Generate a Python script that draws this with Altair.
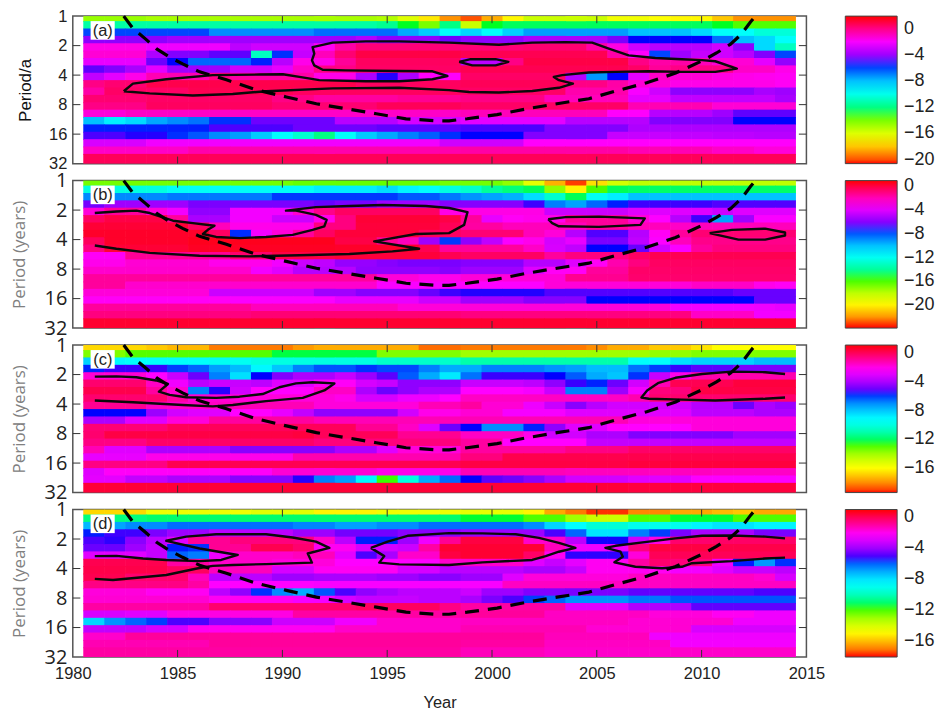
import altair as alt
import pandas as pd

START_YEARS = [1980.5 + i for i in range(35)]
OCT_EDGES = [0, .17, .42, .67, .92, 1.17, 1.42, 1.67, 1.92, 2.17, 2.42, 2.67, 2.92, 3.17, 3.42, 3.67, 3.92, 4.17, 4.42, 4.67, 5]

A = [
[-14.5,-14.5,-14.5,-14.8,-14.8, -14.8,-14.8,-14.8,-14.8,-14.8, -14.8,-14.8,-14.8,-14.8,-15, -16,-17.3,-19,-20,-18.5, -17,-15.5,-15.5,-15.5,-15.5, -16.5,-16.5,-16.8,-17,-17, -18,-19,-19,-19],
[-11.5,-11.5,-11.5,-11.5,-11.5, -11.5,-11.5,-11.5,-11.5,-11.5, -11.5,-11.5,-11.5,-11.5,-11.8, -13,-14,-12,-15.5,-13, -12.5,-12.5,-12.5,-12.5,-12.5, -12.5,-12.5,-12.5,-12.5,-12.5, -13,-13.5,-13.5,-13.5],
[-6,-6,-6,-6,-6, -6,-7,-7,-7,-7, -7,-6.5,-6.5,-6.5,-6.5, -7.5,-8.2,-9.5,-8.5,-9.5, -8.3,-7.3,-7.3,-7.3,-7.3, -7.3,-8,-8,-8,-8.5, -9.5,-9.5,-10.5,-10.5],
[-4.3,-4.3,-4.3,-4.3,-4, -4,-4,-4,-4,-4, -4,-4,-4,-3.6,-4.3, -4.3,-4.3,-4.8,-4.3,-4.3, -4.3,-3.8,-3.8,-3.8,-3.8, -4.6,-5.6,-5.6,-5.6,-5.6, -6.5,-8,-8.5,-9.5],
[-1.5,-1.5,-1.5,-2.2,-2.2, -2.2,-2.2,-3.4,-3,-3, -3,-1.7,-.5,.2,.2, .2,.2,.2,.2,.2, .2,.3,.3,.3,-.5, -1.4,-3,-3.5,-3.5,-3.5, -3,-4.3,-8.5,-11],
[-1.2,-1.2,-1.2,-3.7,-4.5, -4.5,-5,-5,-11,-5.8, -3.2,-.8,.3,1,1, 1,1,1,.8,.8, .8,.8,.8,.8,.8, -.5,-1.8,-6,-4,-3.2, -3,-3.5,-4.5,-6],
[-2.4,-2.4,-2.4,-4.8,-5.6, -6.4,-6.4,-6.4,-5.7,-3.5, -1.5,-1.5,-.3,.6,.6, .6,.6,.6,-3.4,-3.4, 0,1,1,1,1, 1,0,-.5,-.5,-.8, -1.2,-1.2,-2.5,-4.2],
[-5,-4.5,-3.8,-2.5,-4, -4,-4,-3,-3,-2.5, -1,0,0,.5,.5, .5,.5,.5,.8,.8, .8,.8,.8,.8,.8, .8,.5,-.3,0,0, 0,-1,-1,-1.5],
[-3.3,-2.5,-1.5,-.7,-.7, -.7,0,-.5,-.5,-.5, -.5,-1.5,-1.5,-3.7,-5.5, -3.7,-1.8,-1.8,.5,.5, .5,.5,.5,-3.5,-7.2, -5.6,-2.5,-1,-1.2,-1.2, -1.4,-1.5,-1.6,-1.7],
[0,.3,.3,.9,.9, .9,.9,.9,.9,.9, .9,.9,.9,.6,.6, .6,.6,.6,.7,.7, .7,.7,.7,0,0, -.5,-1.2,-1.2,-1.5,-1.5, -1.5,-1.5,-1.5,-1.7],
[-.5,.5,.5,.5,.5, .8,.8,.8,.8,.8, .6,.6,.6,.6,.6, .6,.6,.6,.5,.5, .5,.5,.5,-.6,-.6, -.6,-2,-3,-4.3,-4.3, -4.3,-4.3,-3.8,-4],
[.3,.3,.3,.5,.5, .5,.5,.5,.5,0, 0,-.4,-.4,-.4,-.4, -.2,-.2,-.2,0,0, 0,0,-.8,-.8,-.8, -.8,-2.5,-2.5,-3.3,-3.3, -3.3,-3.3,-3.3,-3.8],
[0,0,0,.6,.6, .6,.6,.6,.6,.3, .3,.3,.3,.3,.7, .7,.7,.7,.5,.5, .5,.5,.5,.5,.5, .5,-.7,-.7,-.7,-.7, -1.2,-1.2,-1.2,-1.2],
[-1.3,-1.3,-1,-1,-1, -1,-1,-1,-1,-1, -1,-1,-1,-1,-1, -1,-1,-1,-.8,-.8, -.8,-.8,-.8,-.8,-.8, -1.8,-1.8,-3.5,-3.5,-3.5, -4,-5,-5,-5],
[-8,-9,-8.5,-7.5,-7, -6.6,-5.8,-5.8,-4.8,-4.8, -4.8,-4.8,-3.5,-3.5,-3.5, -2.8,-2.8,-2.8,-2.5,-2.5, -2.5,-2.5,-2.5,-3.5,-3.5, -3.5,-3.5,-4.5,-4.5,-4.5, -4.5,-5.6,-5.6,-5.6],
[-5.7,-5.7,-5.7,-5.7,-5.7, -5.7,-5.2,-5.2,-5.2,-5.2, -4.8,-4.8,-4.8,-4.8,-5, -5,-5,-5,-5.2,-5.2, -5.2,-5.2,-4.5,-4.5,-4.5, -4.5,-3.7,-3.7,-3.7,-3.7, -3.7,-3.7,-3.7,-3.7],
[-5.2,-5.2,-5.5,-5.5,-5.8, -6.2,-7,-7.3,-8.2,-9.3, -10.7,-12,-9.5,-8.2,-7.5, -6.8,-6.3,-5.8,-5.6,-5.6, -5.6,-4.5,-4.5,-4.5,-4.5, -3.2,-3.2,-3.2,-3.3,-3.3, -3.4,-3.4,-3.5,-3.5],
[-2.8,-2.8,-2.8,-2.2,-2.2, -2.2,-2.2,-2.2,-2.2,-2.2, -2.2,-2.2,-2.2,-2.2,-2.2, -2.2,-2.2,-3,-3,-3, -3,-1.8,-1.8,-1.8,-1.8, -1.8,-1.8,-1.8,-1.8,-1.8, -1.8,-1.8,-1.8,-1.8],
[-1,-1,-1,-1,-1, -.6,-.6,-.6,-.6,-.6, -.6,-.6,-.6,-.6,-.6, -.6,-.6,-.6,-.5,-.5, -.5,-.5,-.5,-.5,-.5, -.5,-.7,-.7,-.7,-.7, -1,-1,-1.3,-1.3],
[.7,.7,.7,.7,.7, .7,.7,.7,.7,.7, .7,.7,.7,.7,.7, .7,.7,.7,.7,.7, .7,.7,.7,.7,.7, .7,.7,.7,.7,.7, .7,.7,.7,.7],
]

B = [
[-16.5,-16.5,-16.5,-16.5,-16.5, -16.5,-16.5,-16.5,-16.5,-16.5, -16.3,-16.3,-16.3,-16.3,-16.3, -16.3,-16.3,-16.5,-16.5,-16.5, -17,-19,-21.5,-23.5,-20.5, -18.5,-18,-18,-18,-18, -18,-18,-18,-18],
[-12.5,-12.5,-12.5,-12.5,-11.8, -11.8,-11.8,-11.8,-11.8,-11.8, -11.8,-11,-11,-11,-10.6, -11.2,-11.5,-12.5,-13,-14, -14.5,-15,-17,-20,-16, -15,-14.8,-14.8,-14.8,-14.8, -14.8,-14.8,-14.8,-14.8],
[-8.8,-8.8,-8.8,-8.8,-8.5, -8.5,-8.5,-8.5,-8.5,-7.6, -7.6,-7.6,-7.6,-7.6,-7.6, -8,-8,-8.5,-9,-9.3, -9.6,-10.6,-13,-15,-12, -11,-10,-10,-10,-10, -10,-10,-10,-10],
[-6.3,-5.5,-5.5,-5.5,-5.5, -6.2,-6.2,-6.2,-6.2,-6.2, -6.2,-6.5,-6.2,-6.2,-5.5, -5.5,-5.5,-6,-6,-6, -6,-7,-8.6,-9.3,-8.2, -7.4,-7,-7,-7,-7, -6.8,-6.8,-6.8,-6.8],
[-2.5,-1.5,-1.5,-2.5,-3.5, -5.8,-5.8,-3.5,-3.5,-3.5, -2.3,-1.2,-.5,-.5,-.5, -.5,-.5,-2.7,-2.7,-2.7, -2.7,-2.7,-4.5,-4.5,-4.5, -4.5,-4,-4,-4,-4, -4.5,-4,-4,-4],
[-.5,0,0,0,-1.5, -5.3,-5.3,-3.5,-3.5,-4.5, -4.5,-2.8,-1,.3,.3, .3,.3,0,-1.5,-3.8, -3,-2.8,-2.8,-1.5,-1.5, -1.5,-2.5,-3.2,-5,-7, -9.3,-5.5,-3.3,-3.3],
[.3,.3,.3,.3,.3, -.5,-2,-2.8,-2.8,-2.8, -2.8,-1,-1,.2,.2, .2,.2,-.3,-1.6,-1.6, -2,-2,-2,-2,-1.5, -1.5,-2,-2,-2.2,-2, -2,-2,-2,-2],
[.5,.5,.5,.5,.5, .5,-.5,-7.5,-3.5,-2.5, -1.5,-.5,.2,.2,.2, .2,-.5,-.5,-.8,-.8, -.8,-2,-2.5,-5,-6.8, -6.8,-5,-3,-1.5,-.8, -.8,-.8,-.8,-.8],
[-.4,.5,.5,.5,.5, .7,.7,.7,.7,.7, .7,.7,0,0,-1.4, -2,-5.5,-7.6,-5.8,-4.8, -3.3,-2.8,-4.3,-3.8,-6.2, -6.2,-4.8,-3.2,-2,-1.2, -1.2,-1.2,-1.2,-1.2],
[-1,.3,.3,.3,.3, .6,.6,.6,.6,.6, .6,.6,.5,.5,.5, .5,-.2,-1.5,-1.5,-1.5, -1.5,-2.2,-4.2,-4.8,-7.3, -7.3,-6.5,-4.3,-3.3,-1.5, -1,-1,-1,-1],
[-3,-3,-1.4,-1.4,-1.4, -1.4,-1.4,-.7,-.7,0, 0,0,.2,.2,.2, .2,.2,-.2,-.5,-.5, -.5,-.5,-1.5,-1,-1, -1,-.5,-.2,-.2,-.2, -.2,-.2,-.2,-.2],
[-2.8,-2.8,-2.4,-2.4,-2.4, -2.4,-2.8,-2.8,-2.8,-3.5, -4.5,-4.8,-5.7,-5.7,-6, -6.2,-6.2,-6.2,-6,-6, -6,-5,-5,-4,-3, -1.8,-1,-.5,-.5,-.5, -.5,-.5,-.5,-.5],
[-2.3,-2.3,-2.3,-2.3,-2.3, -2.3,-2.3,-2.3,-3.5,-4, -5,-5,-5,-5.8,-5.8, -5.8,-5.8,-6,-5.5,-5.5, -5.5,-4,-3,-3,-1.5, -1.5,-.6,-.6,-.6,-.6, -.6,-.6,-.6,-.6],
[-1.5,-1.5,-1.5,-1.5,-1.5, -1.5,-1.5,-1.5,-1.5,-1.5, -1.5,-1.5,-1.5,-1.5,-2.5, -2.5,-2.8,-2.8,-2.5,-2.5, -2.5,-2.5,-2.5,-1.3,-1.3, -1.3,-.7,-.7,-.7,-.7, -.7,-.7,-.7,-.7],
[-1.5,-1.5,-2.3,-2.3,-2.3, -2.3,-2.3,-2.3,-2.3,-2.3, -2.3,-2.3,-2.3,-2.3,-3.3, -3.3,-3.3,-3.3,-3.2,-3.2, -3.2,-3.2,-2.5,-2.5,-2.5, -2.5,-2.5,-2.5,-2.5,-2.2, -2.2,-2.2,-2.8,-3],
[-2.5,-2.5,-2.5,-2.5,-2.5, -2.5,-4.5,-4.5,-4.5,-4.5, -4.5,-5.5,-5.5,-6,-6, -6,-6.5,-7,-7.2,-7.2, -7.2,-7.2,-6.8,-6.8,-6.8, -6.8,-6.8,-6.8,-6.8,-6.8, -6.8,-6.5,-6.5,-6.5],
[-3,-3,-3,-3,-3, -3,-3,-3.3,-3.3,-3.3, -3.3,-3.3,-3.8,-3.8,-3.8, -3.8,-4.5,-4.5,-5.5,-5.5, -5.5,-6,-6,-6,-7.3, -7.3,-7.3,-7.3,-7.3,-7.3, -7.3,-7.3,-6.5,-6.5],
[-1.5,-1.5,-1.5,-1.5,-1.5, -1.5,-1.5,-1.5,-2,-2, -2,-2,-2,-2,-2, -2.5,-2.5,-2.5,-2.5,-2.5, -2.5,-2.5,-2.5,-2.5,-2.5, -2.5,-2.5,-2.5,-3.5,-3.5, -3.5,-3.5,-3.6,-3.8],
[-1,-1,-1,-1,-1, -1,-1,-1,-.8,-.8, -.8,-.8,-.8,-.8,-.8, -.8,-.8,-.8,-1,-1, -1,-1,-1,-1,-1, -1,-1,-1,-1,-2.2, -2.2,-2.2,-3.5,-3.5],
[.4,.4,.4,.4,.4, .4,.4,.4,.4,.4, .4,.4,.4,.4,.4, .4,.4,.4,.4,.4, .4,.4,.4,.4,.4, .4,.4,.4,.4,.4, .4,.4,.4,.4],
]

C = [
[-16.7,-16.7,-16.7,-17,-17.3, -17.3,-18.3,-18.3,-18.3,-18.3, -17.8,-17.5,-17.5,-17.5,-17.5, -17.5,-18.5,-18.5,-18.3,-18.3, -18.3,-18.3,-18.3,-18.3,-18, -17.5,-17.5,-17,-17,-16.5, -16,-16,-16,-16],
[-13.5,-13.5,-13,-13,-13, -13,-13,-13,-13,-12.3, -12.3,-12.3,-12.3,-12.3,-13.5, -13.5,-13.5,-13.5,-14,-14, -14,-14,-14,-14,-14, -14,-14,-13.8,-13.8,-13.5, -13.5,-13.5,-13.5,-13.5],
[-8.2,-9,-9.3,-9.3,-9.3, -9.3,-9.6,-9.6,-10,-10, -10,-10,-10,-10,-10.5, -10.5,-10.5,-10.5,-11,-11, -11,-11,-11,-11,-11, -11,-9.3,-9.3,-8.5,-8.2, -8.2,-8.2,-7.8,-7.8],
[-5.8,-5.5,-5.5,-5.5,-6, -6.4,-7.3,-7.8,-9,-8, -6.8,-6.2,-6.2,-5.9,-6.1, -6.1,-6.8,-7.5,-7.5,-6.8, -6.8,-6.8,-7.1,-7.3,-7.8, -7.8,-6.6,-6,-5.5,-5.2, -5.2,-4.8,-4.8,-4.8],
[-1.7,-1.7,-1.7,-2.3,-3.5, -5,-6.8,-8.5,-5.7,-4.7, -4,-4,-3.5,-4.3,-5.2, -6.3,-7.5,-8.7,-6.6,-5.5, -5.5,-5.5,-5.7,-6.3,-7.5, -8,-5.9,-3.5,-2,-1.2, -1.2,-1.2,-1.2,-1.2],
[-.3,-.3,-.3,-1.5,-2.6, -3.7,-3.4,-3.5,-3.7,-3, -3,-2.2,-2.2,-3.2,-3.5, -4.5,-4.5,-4.5,-3.5,-3.5, -3.5,-3.7,-4.5,-5.5,-5.8, -5,-3.3,-1.3,.1,.1, .1,.4,.4,.4],
[.2,.2,.2,-1,-1.7, -6.8,-5.6,-3.3,-2.3,-2.3, -2.3,-1.5,-1.5,-4,-5, -4.5,-4,-4,-2.3,-2.3, -2.3,-2.5,-3.5,-6.8,-6.8, -4.3,-2.5,-.5,-.5,.3, .3,.3,.3,.3],
[-.3,-.3,-.3,-.3,-1, -1.7,-1.7,-1.8,-1.8,-1.8, -1.8,-1.8,-2,-3.2,-3.2, -2.7,-2.7,-2.3,-1.5,-1.5, -1.5,-1.5,-1.5,-1.5,-1.5, -1.5,-1.2,-.3,-.3,-.3, -.3,-.3,-.3,-.3],
[-.8,-.8,-.8,-1.5,-1.5, -1.5,-1.5,-1.3,-1.3,-1.3, -1.3,-1.8,-1.8,-1.8,-1.8, -1.8,-1.3,-1.3,-1,-1.7, -1.7,-2.7,-3.5,-4.6,-3.8, -3.3,-3.3,-3.3,-3.3,-3.8, -3.8,-5,-4,-4.3],
[-5.7,-5.7,-5.7,-4.3,-3.3, -3,-3,-2.3,-2.3,-2.8, -3.6,-4.5,-4.5,-4.5,-4.5, -3.3,-2,-2,-1.7,-1.7, -2.5,-2.5,-2.5,-3,-3, -3,-3,-3,-3,-3.7, -3.7,-3.7,-4,-4],
[-4,-4,-3,-3,-1.8, -1.8,-1,-1,-1,-1, -1,-1.3,-1.3,-1.3,-1.3, -1.3,-1.3,-1.3,-1.3,-1.3, -1.3,-1.3,-1.3,-1.3,-1.3, -1.3,-1.8,-1.8,-1.8,-1.8, -1.8,-1.8,-1.8,-1.8],
[-.4,-.4,-.4,-.4,0, 0,0,0,0,0, 0,0,0,-.8,-.8, -1.5,-3,-5,-5.7,-7, -7,-5.8,-4.5,-3,-3, -2.3,-2.3,-2.3,-2.3,-1.8, -1.8,-1.8,-1.8,-1.8],
[-.3,.3,.3,.3,.3, .3,.3,.3,.3,.3, .4,0,0,0,0, -.8,-.8,-.8,-1.5,-1.5, -1.5,-2,-3.3,-3.3,-4, -4,-4.7,-4.7,-4.7,-4.7, -4.7,-4.2,-4.2,-4.2],
[-.6,-.6,-.6,-.2,-.2, -.2,-.2,-.2,-.2,-.2, -.2,-.5,-.5,-.5,-.5, -.5,-.5,-.5,-1,-1, -2.3,-2.3,-2.3,-2.3,-3.6, -3.6,-3.6,-3.6,-3.6,-3.6, -3.6,-3.6,-3.6,-3.6],
[-1.3,-3,-3,-4,-4, -4,-4,-4.6,-4.6,-4.6, -4.6,-4.6,-4,-4,-3, -1.8,-1.8,-1.8,-1,-1, -1,-1,-1,-.6,-.6, -.6,-.2,-.2,-.2,-.2, -.2,-.2,-.2,-.2],
[-2.8,-2.8,-2.8,-2,-2, -2,-2,-2,-2,-2, -1.2,-1.2,-1.2,-1.2,-1.2, -1.2,-1.2,-1.2,-.5,-.5, .2,.2,.2,.2,.2, .2,.2,.2,.2,.2, .2,.2,.2,.2],
[-.6,-.6,-.6,-.6,.1, .1,.1,.1,.1,.1, .1,.1,.1,.1,.1, .1,.1,.1,.3,.3, .3,.3,.3,.3,.3, .3,.4,.4,.4,.4, .4,.4,.4,.4],
[-3,-2.2,-2.2,-2.2,-2.2, -2.2,-2.2,-2.2,-2.2,-1.7, -1.7,-1.7,-1.7,-1.7,-2, -2,-2,-2,-1.3,-1.3, -1.3,-1.3,-1.3,-1.4,-1.4, -1.4,-1.4,-1.4,-1.4,-1.4, -1.5,-1.5,-1.5,-1.5],
[-2.9,-2.9,-3.6,-3.6,-4, -4,-4,-4.6,-4.6,-4.6, -5.6,-6.8,-7.3,-9,-12.8, -10,-7.5,-6.5,-5.7,-5.2, -5,-4.6,-4,-3.3,-3.3, -3.3,-3,-3,-3,-2.4, -2.4,-2.4,-2.4,-2.4],
[.5,.5,.5,.5,.5, .5,.5,.5,.5,.5, .5,.5,.5,.5,.5, .5,.5,.5,.5,.5, .5,.5,.5,.5,.5, .5,.4,.4,.4,.4, .4,.4,.4,.4],
]

D = [
[-15.5,-15.5,-15.5,-14.5,-14.5, -14.5,-14.5,-14.5,-14.2,-14.2, -14.2,-15,-15,-15,-14.5, -14.5,-14.5,-14.5,-14.3,-14.3, -14.3,-15,-16.3,-17,-17.8, -17.8,-16.8,-16.8,-16.3,-16.3, -16,-15.8,-16.3,-16.3],
[-10.8,-10.8,-10.8,-11,-11, -11,-11,-11,-11,-11, -11,-11,-11,-11,-11, -11,-11,-11,-11.5,-11.5, -11.5,-12,-12,-13,-13.7, -13.7,-12,-12,-11.5,-11.5, -11.5,-12,-12,-12],
[-7.2,-6.9,-6.5,-6.5,-6.1, -6.1,-6.1,-6.1,-6.1,-6.1, -6.4,-6.4,-6.8,-6.8,-6.5, -6.5,-6.1,-6.1,-6.1,-6.1, -6.1,-6.5,-7.7,-8.5,-9.5, -9.5,-9,-9,-9,-8.3, -8,-8,-8.3,-8.3],
[-5.4,-5.1,-5.1,-4.5,-4, -4,-3.5,-3.5,-3.5,-3.5, -4,-4,-4.6,-4.6,-4.6, -4.3,-4.3,-4.3,-4,-4, -4,-4,-5,-6,-8, -8,-6.3,-5.6,-4.5,-3.8, -3.8,-3.8,-4.5,-4.5],
[-5,-5.2,-4.3,-3.5,-2.8, -.8,-.8,-.5,-.5,-.5, -.5,-1.5,-3.5,-5.4,-5.4, -4,-2.5,-.8,.3,.3, .3,-1.5,-1.5,-3.5,-5.3, -5.3,-3.2,-1.8,-.3,-.3, -.2,-.2,-.2,-.2],
[-4.7,-4.7,-4,-3.3,-5.4, -5.5,-.8,-.8,.1,.1, -.3,-2,-2,-3,-3, -3.2,-1,.5,.5,.5, .5,.5,-1.3,-2.5,-2.5, -2.5,-.5,.3,.3,.3, .2,.2,.2,.2],
[-2.8,-2.8,-2.8,-3.3,-6, -6.3,-2.5,-1.5,-1.5,-1.5, -1.3,-1.3,-2.7,-5,-3.8, -1.5,-1.5,.3,.5,.5, .5,-.2,-2,-5.2,-5.2, -5.2,-1.7,0,0,0, 0,0,0,0],
[.1,.1,.1,.1,-1, -1,-1.5,-1.5,-1.5,-1.7, -1.7,-1.7,-2.2,-2.2,-2.2, -2.2,-2.2,-1.5,-1.5,-1.5, -1.5,-2.8,-3.3,-2.7,-2, -2,-1,-.3,-.5,-.5, -2.5,-5.4,-6.7,-5.5],
[.2,.2,.2,.2,-.1, -.1,-1.3,-1.3,-1.3,-3, -3,-2,-2,-2,-2, -3,-3,-3.5,-3.5,-3.5, -3.5,-3.8,-3.8,-3.3,-2, -2,-2,-2,-2.4,-2.4, -2.8,-3.3,-3.3,-3.5],
[.1,.1,-.3,-.3,-.3, -1.3,-3.5,-3.5,-3.5,-4, -4,-3.8,-3.8,-3.8,-4, -4,-4.3,-4.3,-4,-4, -2.8,-1.7,-1.7,-1.7,-1.7, -1.7,-1.4,-1.4,-1.4,-1.4, -1.4,-1.4,-1.6,-3],
[-.6,-.6,-.6,-.6,-.6, -1,-2.2,-2.2,-2.2,-2.2, -2.2,-2.3,-2.3,-2.3,-2.3, -2.3,-2.3,-2.3,-2.3,-2.3, -1.4,-1.4,-1.4,-1.4,-1.4, -1.4,-1.4,-1.4,-1.4,-1.4, -1.4,-1.4,-1.4,-1.4],
[-1.7,-1.7,-1.7,-2,-2, -2,-3.5,-4.2,-5.5,-6.5, -7,-5.8,-5,-4.2,-3.8, -3.5,-3.5,-3.5,-3.2,-4, -4,-4.4,-4.4,-4.5,-4.5, -4.5,-4.8,-4.8,-4.8,-4.8, -4.8,-4.8,-5,-5],
[-1.6,-1.6,-1.6,-1.6,-1.6, -1.6,-2,-2,-2,-2, -2.4,-2.4,-3,-3.3,-3.3, -3.3,-3.5,-3.5,-3.8,-4.5, -5,-5.6,-6,-6.6,-6.6, -6.6,-6.2,-6.2,-5.8,-5.8, -5.8,-5.8,-5.8,-5.8],
[-1,-1,-1,-1,-1, -1,-.3,-.3,-.3,-.3, -.3,-.3,-.3,-.1,-.1, -.1,-.1,-.6,-1,-1, -1,-1,-1,-2.8,-2.8, -2.8,-3.7,-3.7,-3.7,-4.8, -4.8,-4.8,-4.8,-4.8],
[-3,-3,-2.8,-2.8,-1.8, -1.8,-1.8,-1.8,-1.8,-1.8, -1,-1,-1,-1,-1, -1,-1,-1,-.9,-.9, -.9,-.9,-1.4,-1.4,-1.4, -1.4,-1.4,-1.7,-1.7,-1.7, -2,-2,-2.5,-2.5],
[-7.7,-6.6,-6,-5.6,-5, -5,-4.3,-4.3,-4.3,-3.2, -3.2,-3.2,-2.5,-2.5,-1.5, -1.5,-1.5,-1.5,-1.4,-1.4, -1.4,-1.4,-1.4,-1.4,-1.4, -1.4,-1.6,-1.6,-1.6,-1.6, -1.6,-2.5,-2.5,-2.5],
[-3.4,-3.4,-3.4,-3,-3, -2,-2,-2,-2,-2, -2,-2,-1.5,-1.5,-1.5, -1.5,-1.5,-1.5,-1.2,-1.2, -1.2,-1.2,-1.2,-1.2,-1.6, -1.6,-1.6,-1.6,-1.6,-3, -3,-3,-3,-3],
[-1.5,-1.5,-.9,-.9,-.9, -.9,-.9,-.9,-.9,-.9, -.9,-.9,-.9,-.9,-.9, -.9,-.9,-.9,-.9,-.9, -.9,-.9,-1.3,-1.3,-1.3, -1.3,-1.3,-2.5,-2.5,-2.5, -2.5,-2.5,-2.5,-2.5],
[-1.2,-1.2,-1.2,-1.2,-1.2, -1.2,-.9,-.9,-.9,-.9, -.9,-.9,-.9,-.9,-.9, -.9,-.9,-.9,-1,-1, -1,-1,-1.4,-1.4,-1.4, -1.4,-1.4,-1.4,-2.4,-2.4, -2.4,-2.4,-2.4,-2.4],
[-1,-1,-1,-1,-1, -1,-1,-1,-1,-1, -1,-1,-1,-1,-1, -1,-1,-1,-1.3,-1.3, -1.3,-1.3,-1.5,-1.5,-1.5, -1.5,-1.5,-1.5,-1.5,-1.5, -1.5,-1.5,-1.5,-1.5],
]

COI_YEAR = [1982.43,1982.86,1983.48,1984,1984.62,1985.24,1986.05,1987.33,1988.76,1990.19,1991.62,1993.05,1994.48,1995.9,1997.33,1997.95,1998.81,2000.24,2001.67,2003.1,2004.62,2005.95,2007.38,2008.76,2010.1,2010.71,2011.38,2011.9,2012.33,2012.57]
COI_OCT = [0,.41,.78,1.11,1.39,1.62,1.89,2.16,2.5,2.74,2.97,3.14,3.31,3.48,3.55,3.55,3.48,3.34,3.14,2.97,2.8,2.53,2.26,1.93,1.49,1.25,.95,.61,.2,0]

A1_Y = [1982.43,1982.87,1984.46,1986.68,1988.9,1990.02,1990.81,1991.76,1993.98,1995.57,1997.16,1997.87,1997.16,1995.57,1993,1991.92,1991.52,1991.41,1991.52,1991.44,1992.4,1993.98,1995.57,1997.95,2000.33,2001.92,2003.51,2004.78,2005.57,2006.52,2007.79,2009.06,2010.02,2010.65,2011.68,2010.65,2009.06,2007.48,2005.89,2004.62,2003.35,2002.95,2003.19,2003.86,2003.19,2001.92,2000.33,1998.9,1997.95,1995.57,1992.4,1989.22,1987.63,1985.73,1983.67,1982.43]
A1_O = [2.545,2.29,2.14,2,1.98,1.97,2.06,2.17,2.21,2.21,2.14,2.03,1.87,1.86,1.84,1.82,1.67,1.5,1.27,1.05,.9,.856,.856,.9,.97,.9,.88,.9,1.1,1.33,1.42,1.46,1.49,1.53,1.78,1.89,1.89,1.87,1.89,1.91,2,2.06,2.17,2.29,2.43,2.54,2.59,2.57,2.51,2.43,2.45,2.545,2.64,2.69,2.62,2.545]
A2_Y = [1998.43,1998.98,2000.17,2000.78,2000.17,1999.06,1998.43]
A2_O = [1.55,1.46,1.46,1.55,1.67,1.67,1.55]
B1_Y = [1981.05,1982.08,1983.03,1983.67,1984.78,1985.73,1986.76,1986.44,1986.21,1986.84,1987.95,1989.22,1990.49,1991.44,1992,1992.11,1991.6,1990.65,1990.17,1991.6,1993.19,1994.78,1996.84,1997.95,1998.83,1998.67,1997.95,1996.37,1994.38,1996.52,1995.25,1993.19,1990.81,1988.43,1986.05,1983.67,1982.08,1981.05]
B1_O = [1.1,1.05,1.02,1.1,1.36,1.44,1.53,1.67,1.81,1.91,1.95,1.91,1.84,1.67,1.55,1.33,1.16,1.02,1.02,.9,.86,.83,.86,.93,1.07,1.5,1.78,1.81,2.06,2.31,2.4,2.49,2.53,2.57,2.55,2.45,2.31,2.2]
B2_Y = [2002.68,2003.51,2005.1,2007.29,2007.08,2005.1,2003.19,2002.87,2002.68]
B2_O = [1.31,1.24,1.22,1.28,1.5,1.57,1.55,1.44,1.31]
B3_Y = [2010.38,2011.44,2013.03,2013.98,2013.98,2013.03,2011.76,2010.38]
B3_O = [1.78,1.67,1.63,1.76,1.86,2,2,1.78]
C1_Y = [1981.05,1982.08,1983.03,1983.98,1984.54,1984.11,1984.62,1985.41,1986.84,1987.95,1989.06,1989.86,1990.65,1991.44,1992.48,1992,1990.97,1989.22,1987.63,1986.68,1985.25,1982.87,1981.05]
C1_O = [1.07,1.06,1.09,1.2,1.32,1.58,1.69,1.77,1.79,1.75,1.66,1.43,1.3,1.26,1.3,1.54,1.79,1.9,2.03,2.08,2.03,1.94,1.88]
C2_Y = [2013.98,2013.03,2011.44,2010.02,2008.75,2007.95,2007.4,2007.13,2007.48,2009.06,2010.65,2013.03,2013.98]
C2_O = [.98,.92,.9,.98,1.11,1.28,1.54,1.78,1.82,1.85,1.88,1.82,1.78]
D1_Y = [1981.05,1982.08,1983.35,1984.46,1986.05,1987.08,1987.87,1986.05,1984.46,1985.41,1986.84,1989.22,1990.49,1991.6,1992.24,1991.21,1991.41,1989.22,1987.63,1986.68,1985.98,1984.46,1981.92,1981.05]
D1_O = [1.58,1.57,1.66,1.71,1.75,1.71,1.54,1.32,1.06,.92,.84,.84,.95,1.09,1.3,1.49,1.8,1.85,1.88,1.91,1.99,2.22,2.39,2.35]
D2_Y = [1994.22,1995.02,1995.97,1997.95,1999.54,2001.13,2002.24,2003.19,2003.98,2003.19,2002.56,2001.92,1999.54,1997.95,1995.57,1994.62,1994.86,1994.22]
D2_O = [1.3,1.09,.89,.8,.81,.84,.96,1.13,1.3,1.43,1.58,1.71,1.79,1.88,1.86,1.8,1.58,1.3]
D3_Y = [2013.98,2013.03,2011.44,2010.02,2008.75,2007.48,2005.89,2005.41,2006.13,2006.24,2005.84,2006.84,2008.11,2009.06,2009.54,2011.44,2013.03,2013.98]
D3_O = [.98,.92,.88,.89,.98,1.09,1.23,1.3,1.43,1.6,1.79,1.94,1.99,1.94,1.82,1.75,1.66,1.63]

HUES = ['#ff0000', '#ffff00', '#00ff00', '#00ffff', '#0000ff', '#ff00ff', '#ff0000']
PANELS = [
    dict(tag='(a)', m=A, dom=[-20.6,-16.85,-13.1,-9.35,-5.6,-1.85,1.9], bar=[0,-4,-8,-12,-16,-20],
         lines=[(A1_Y,A1_O),(A2_Y,A2_O)], ytitle='Period/a', ycolor='#111111', yfont='Liberation Sans', ysize=16.5, tp=14),
    dict(tag='(b)', m=B, dom=[-23.9,-19.75,-15.6,-11.45,-7.3,-3.15,1], bar=[0,-4,-8,-12,-16,-20],
         lines=[(B1_Y,B1_O),(B2_Y,B2_O),(B3_Y,B3_O)], ytitle='Period (years)', ycolor='#808080', yfont='Open Sans', ysize=20, tp=16),
    dict(tag='(c)', m=C, dom=[-19.4,-16,-12.6,-9.15,-5.7,-2.3,1.1], bar=[0,-4,-8,-12,-16],
         lines=[(C1_Y,C1_O),(C2_Y,C2_O)], ytitle='Period (years)', ycolor='#808080', yfont='Open Sans', ysize=20, tp=16),
    dict(tag='(d)', m=D, dom=[-18,-14.83,-11.67,-8.5,-5.33,-2.17,1], bar=[0,-4,-8,-12,-16],
         lines=[(D1_Y,D1_O),(D2_Y,D2_O),(D3_Y,D3_O)], ytitle='Period (years)', ycolor='#808080', yfont='Open Sans', ysize=20, tp=16),
]
X_TICKS = [1985, 1990, 1995, 2000, 2005, 2010]
Y_TICKS = [1, 2, 3, 4]
W, H = 736, 148
XS = alt.Scale(domain=[1980, 2015], nice=False, zero=False)
YS = alt.Scale(domain=[5, 0], nice=False, zero=False)
FONT = 'Liberation Sans'

def panel(p, last):
    cells = []
    for r, row in enumerate(p['m']):
        for c, v in enumerate(row):
            cells.append(dict(x0=START_YEARS[c], x1=START_YEARS[c+1] + (.03 if c < 33 else 0), y0=OCT_EDGES[r], y1=OCT_EDGES[r+1] + (.03 if r < 19 else 0), v=v))
    cs = alt.Scale(domain=p['dom'], range=HUES, nice=False, zero=False)
    xaxis = alt.Axis(values=[1980,1985,1990,1995,2000,2005,2010,2015], format='d', tickSize=0, grid=False, domain=False,
                     labels=last, labelFontSize=16.5, labelFont=FONT, labelColor='#222222', labelPadding=9,
                     labelFlush=False, labelOverlap=False,
                     title='Year' if last else None, titleFontSize=16.5, titleFont=FONT, titleFontWeight='normal',
                     titleColor='#222222', titlePadding=12)
    yaxis = alt.Axis(values=[0,1,2,3,4,5], tickSize=0, grid=False, domain=False, labelExpr='pow(2, datum.value)',
                     labelFontSize=p['ysize'], labelFont=p['yfont'], labelColor='#222222', labelPadding=6,
                     labelOverlap=False, labelBound=False, labelFlush=False, title=p['ytitle'], titleFontSize=17, titleFont=p['yfont'],
                     titleFontWeight='normal', titleColor=p['ycolor'], titlePadding=p['tp'])
    X = lambda f: alt.X(f, scale=XS, axis=xaxis)
    Y = lambda f: alt.Y(f, scale=YS, axis=yaxis)
    heat = alt.Chart(pd.DataFrame(cells)).mark_rect().encode(
        x=X('x0:Q'),
        x2='x1:Q',
        y=Y('y0:Q'),
        y2='y1:Q',
        color=alt.Color('v:Q', scale=cs, legend=alt.Legend(
            type='gradient', orient='none', legendX=775, legendY=0, title=None, gradientLength=H, gradientThickness=52,
            gradientStrokeColor='#444444', gradientStrokeWidth=1, values=p['bar'],
            labelExpr="datum.value == 0 ? '0' : '\u2212' + abs(datum.value)",
            labelFontSize=18, labelFont=FONT, labelColor='#222222', labelOffset=7, labelOverlap=False)),
    )
    rows = []
    for i, (ys, os_) in enumerate(p['lines']):
        for j, (a, b) in enumerate(zip(ys, os_)):
            rows.append(dict(year=a, oct=b, c=i, j=j))
    contour = alt.Chart(pd.DataFrame(rows)).mark_line(color='#0a0a0a', strokeWidth=2.4, strokeJoin='round').encode(
        x=X('year:Q'), y=Y('oct:Q'), detail='c:N', order='j:Q')
    coi = alt.Chart(pd.DataFrame(dict(year=COI_YEAR, oct=COI_OCT, j=range(len(COI_YEAR))))).mark_line(
        color='#000000', strokeWidth=3.2, strokeDash=[14, 9]).encode(
        x=X('year:Q'), y=Y('oct:Q'), order='j:Q')
    tick_df = pd.DataFrame([dict(x=t, y0=a, y1=b) for t in X_TICKS for a, b in ((0, .24), (5, 4.76))])
    xt = alt.Chart(tick_df).mark_rule(color='#333333', strokeWidth=1).encode(
        x=X('x:Q'), y=Y('y0:Q'), y2='y1:Q')
    ytick_df = pd.DataFrame([dict(y=t, x0=a, x1=b) for t in Y_TICKS for a, b in ((1980, 1980.36), (2015, 2014.64))])
    yt = alt.Chart(ytick_df).mark_rule(color='#333333', strokeWidth=1).encode(
        x=X('x0:Q'), x2='x1:Q', y=Y('y:Q'))
    box = alt.Chart(pd.DataFrame([dict(x0=1980.85, x1=1982.0, y0=.17, y1=.8)])).mark_rect(color='white').encode(
        x=X('x0:Q'), x2='x1:Q', y=Y('y0:Q'), y2='y1:Q')
    tag = alt.Chart(pd.DataFrame([dict(x=1981.43, y=.5, t=p['tag'])])).mark_text(
        font=FONT, fontSize=16.5, color='#222222', align='center', baseline='middle').encode(
        x=X('x:Q'), y=Y('y:Q'), text='t:N')
    return alt.layer(heat, contour, coi, xt, yt, box, tag).properties(width=W, height=H).resolve_scale(color='independent')

charts = [panel(p, i == 3) for i, p in enumerate(PANELS)]
chart = alt.vconcat(*charts, spacing=17, bounds='flush').resolve_scale(color='independent').properties(
    padding={'left': 1, 'top': -2, 'right': 0, 'bottom': 0}, background='white'
).configure_view(stroke='#555555', strokeWidth=1.5)
chart.save("out.html", embed_options={"renderer": "svg", "actions": False})
